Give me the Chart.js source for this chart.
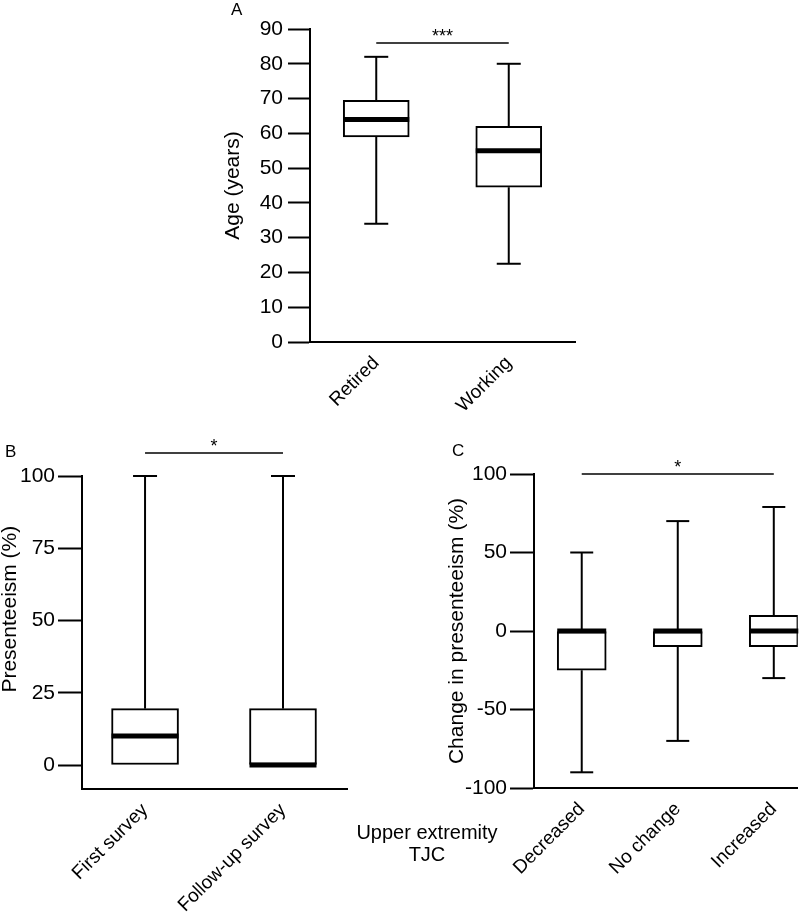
<!DOCTYPE html>
<html>
<head>
<meta charset="utf-8">
<title>Box plots</title>
<script src="https://cdn.jsdelivr.net/npm/chart.js@4.4.0/dist/chart.umd.min.js"></script>
<style>
  body { margin: 0; background: #fff; }
  #wrap { position: relative; width: 800px; height: 914px; font-family: 'Liberation Sans', Arial, sans-serif; color: #000; }
  canvas { position: absolute; }
  .letter { position: absolute; font-size: 17px; line-height: 17px; }
  .note { position: absolute; font-size: 20px; line-height: 22px; text-align: center; width: 200px; }
</style>
</head>
<body>
<div id="wrap">
  <canvas id="chartA" width="360" height="430" style="left:220px;top:0px"></canvas>
  <canvas id="chartB" width="360" height="484" style="left:0px;top:430px"></canvas>
  <canvas id="chartC" width="360" height="484" style="left:440px;top:430px"></canvas>
  <div class="letter" style="left:231px;top:1px">A</div>
  <div class="letter" style="left:5px;top:443px">B</div>
  <div class="letter" style="left:452px;top:442px">C</div>
  <div class="note" style="left:327px;top:821px">Upper extremity<br>TJC</div>
</div>
<script>
// Panel A - age by work status
const ageGroups = ['Retired', 'Working'];
const ageMin = [34, 22.5];
const ageQ1 = [59, 44.5];
const ageMedian = [64, 55];
const ageQ3 = [69.5, 62];
const ageMax = [82, 80];
const ageTicks = [0, 10, 20, 30, 40, 50, 60, 70, 80, 90];

// Panel B - presenteeism at both surveys
const surveyGroups = ['First survey', 'Follow-up survey'];
const presMin = [0, 0];
const presQ1 = [0, 0];
const presMedian = [10, 0];
const presQ3 = [19.5, 19.5];
const presMax = [100, 100];
const presTicks = [0, 25, 50, 75, 100];

// Panel C - change in presenteeism by TJC change
const tjcGroups = ['Decreased', 'No change', 'Increased'];
const changeMin = [-90, -70, -30];
const changeQ1 = [-25, -10, -10];
const changeMedian = [0, 0, 0];
const changeQ3 = [0, 0, 10];
const changeMax = [50, 70, 79];
const changeTicks = [-100, -50, 0, 50, 100];

Chart.defaults.font.family = "'Liberation Sans', Arial, sans-serif";
Chart.defaults.color = '#000';

// whiskers, caps, medians and the significance bar
const boxParts = {
  id: 'boxParts',
  afterDatasetsDraw(chart, args, opts) {
    const ctx = chart.ctx;
    const x = chart.scales.x, y = chart.scales.y;
    const line = (x1, y1, x2, y2) => {
      ctx.beginPath(); ctx.moveTo(x1, y1); ctx.lineTo(x2, y2); ctx.stroke();
    };
    ctx.save();
    ctx.strokeStyle = '#000';
    opts.groups.forEach((g, i) => {
      const px = x.getPixelForValue(i);
      const cap = opts.capWidth / 2;
      const half = opts.boxWidth / 2;
      const yMax = y.getPixelForValue(opts.max[i]);
      const yMin = y.getPixelForValue(opts.min[i]);
      ctx.lineWidth = 2;
      if (opts.max[i] > opts.q3[i]) {
        line(px, y.getPixelForValue(opts.q3[i]), px, yMax);
        line(px - cap, yMax, px + cap, yMax);
      }
      if (opts.min[i] < opts.q1[i]) {
        line(px, y.getPixelForValue(opts.q1[i]), px, yMin);
        line(px - cap, yMin, px + cap, yMin);
      }
      ctx.lineWidth = 5;
      const yMed = y.getPixelForValue(opts.median[i]);
      line(px - half, yMed, px + half, yMed);
    });
    // significance
    const s = opts.sig;
    const sy = y.getPixelForValue(s.value);
    const sx1 = x.getPixelForValue(s.from), sx2 = x.getPixelForValue(s.to);
    ctx.lineWidth = 1.5;
    line(sx1, sy, sx2, sy);
    ctx.fillStyle = '#000';
    ctx.font = "18px 'Liberation Sans', Arial, sans-serif";
    ctx.textAlign = 'center';
    ctx.textBaseline = 'alphabetic';
    ctx.fillText(s.text, (sx1 + sx2) / 2, sy - 1);
    ctx.restore();
  }
};

function makeBoxChart(id, p) {
  return new Chart(document.getElementById(id), {
    type: 'bar',
    data: {
      datasets: [{
        data: p.groups.map((g, i) => ({ x: i, y: [p.q1[i], p.q3[i]] })),
        backgroundColor: '#fff',
        borderColor: '#000',
        borderWidth: 2,
        borderSkipped: false,
        barThickness: p.boxWidth
      }]
    },
    options: {
      responsive: false,
      animation: false,
      devicePixelRatio: 1,
      layout: { padding: p.padding },
      plugins: {
        legend: { display: false },
        tooltip: { enabled: false },
        boxParts: p
      },
      scales: {
        x: {
          type: 'linear',
          offset: false,
          min: p.xMin,
          max: p.xMax,
          afterBuildTicks: scale => { scale.ticks = p.groups.map((g, i) => ({ value: i })); },
          afterFit: scale => { scale.height = p.xHeight; },
          grid: { display: false, drawTicks: false, offset: false },
          border: { display: true, color: '#000', width: 2 },
          ticks: {
            autoSkip: false,
            minRotation: 45,
            maxRotation: 45,
            padding: 10,
            font: { size: 19 },
            callback: v => p.groups[v]
          }
        },
        y: {
          min: p.yMin,
          max: p.yMax,
          afterBuildTicks: scale => { scale.ticks = p.ticks.map(v => ({ value: v })); },
          afterFit: scale => { scale.width = p.yWidth; },
          grid: { drawOnChartArea: false, drawTicks: true, tickLength: p.tickLength, tickColor: '#000', tickWidth: 2, color: '#000' },
          border: { display: true, color: '#000', width: 2 },
          ticks: { padding: p.tickPad, font: { size: 21 } },
          title: { display: true, text: p.title, font: { size: 21 }, padding: { top: p.titlePad, bottom: 0 } }
        }
      }
    },
    plugins: [boxParts]
  });
}

makeBoxChart('chartA', {
  groups: ageGroups, min: ageMin, q1: ageQ1, median: ageMedian, q3: ageQ3, max: ageMax, ticks: ageTicks,
  title: 'Age (years)', yMin: 0, yMax: 90, xMin: -0.5, xMax: 1.5,
  padding: { top: 29, right: 5, left: 0, bottom: 0 }, yWidth: 90, xHeight: 88,
  tickLength: 22, tickPad: 5, titlePad: 1, boxWidth: 66, capWidth: 24,
  sig: { from: 0, to: 1, value: 86, text: '***' }
});

makeBoxChart('chartB', {
  groups: surveyGroups, min: presMin, q1: presQ1, median: presMedian, q3: presQ3, max: presMax, ticks: presTicks,
  title: '        Presenteeism (%)', yMin: -8.3, yMax: 100, xMin: -0.457, xMax: 1.464,
  padding: { top: 46, right: 13, left: 0, bottom: 0 }, yWidth: 82, xHeight: 125,
  tickLength: 24, tickPad: 3, titlePad: -2, boxWidth: 67, capWidth: 24,
  sig: { from: 0, to: 1, value: 108, text: '*' }
});

makeBoxChart('chartC', {
  groups: tjcGroups, min: changeMin, q1: changeQ1, median: changeMedian, q3: changeQ3, max: changeMax, ticks: changeTicks,
  title: 'Change in presenteeism (%)', yMin: -100, yMax: 100, xMin: -0.497, xMax: 2.25,
  padding: { top: 44, right: 1, left: 0, bottom: 0 }, yWidth: 94, xHeight: 126,
  tickLength: 24, tickPad: 3, titlePad: 5, boxWidth: 49, capWidth: 23,
  sig: { from: 0, to: 2, value: 100, text: '*' }
});
</script>
</body>
</html>
